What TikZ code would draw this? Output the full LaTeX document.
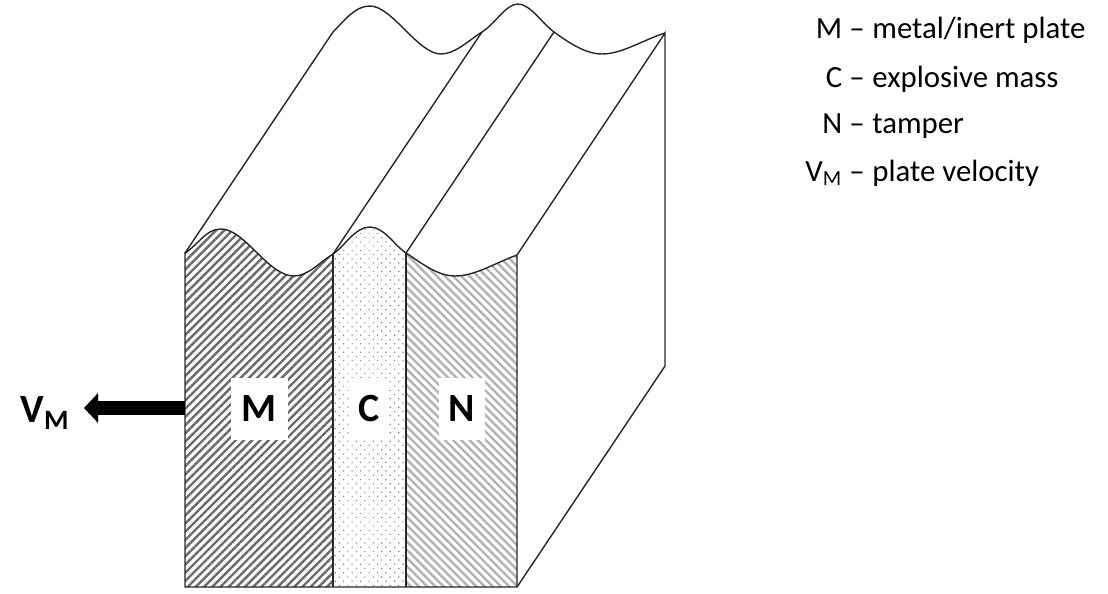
\documentclass[tikz,border=0pt]{standalone}
\usepackage{fontspec}
\setmainfont{Carlito}
\usetikzlibrary{arrows.meta, patterns.meta, positioning}

\begin{document}
\begin{tikzpicture}[
    x=0.5pt, y=-0.5pt,
    edge/.style={draw=black!85, line width=0.7pt},
    platefill/.style={pattern={Lines[angle=45, distance=2.9pt, line width=1.2pt]}, pattern color=black!58},
    massfill/.style={pattern={Dots[angle=45, distance=3pt, radius=0.42pt]}, pattern color=black!50},
    tamperfill/.style={pattern={Lines[angle=-45, distance=2.9pt, line width=1.2pt]}, pattern color=black!30},
    tag/.style={fill=white, font=\fontsize{20}{24}\selectfont\bfseries, inner sep=0pt, minimum height=31pt},
    key/.style={anchor=base west, font=\fontsize{15.4}{18}\selectfont, inner sep=0pt},
    symb/.style={anchor=base east, font=\fontsize{15.4}{18}\selectfont, inner sep=0pt},
    arrow/.style={-{Triangle[length=7pt, width=14.5pt]}, line width=7.2pt},
]
    \useasboundingbox (0,0) rectangle (1108,594);

    % front face
    \path[platefill] (185,253) .. controls (200,243) and (206,229) .. (221,229)
        .. controls (245,229) and (268,276) .. (294,276)
        .. controls (308,276) and (320,262) .. (333,254) -- (333,587) -- (185,587) -- cycle;
    \path[massfill] (333,254) .. controls (345,246) and (355,227) .. (370,227)
        .. controls (384,227) and (394,245) .. (406,253) -- (406,587) -- (333,587) -- cycle;
    \path[tamperfill] (406,253) .. controls (420,262) and (437,276) .. (455,276)
        .. controls (475,276) and (495,263) .. (517,255) -- (517,587) -- (406,587) -- cycle;

    \draw[edge] (185,587) -- (185,253) .. controls (200,243) and (206,229) .. (221,229)
        .. controls (245,229) and (268,276) .. (294,276)
        .. controls (308,276) and (320,262) .. (333,254)
        .. controls (345,246) and (355,227) .. (370,227)
        .. controls (384,227) and (394,245) .. (406,253)
        .. controls (420,262) and (437,276) .. (455,276)
        .. controls (475,276) and (495,263) .. (517,255) -- (517,587) -- cycle;
    \draw[edge] (333,254) -- (333,587);
    \draw[edge] (406,253) -- (406,587);

    % back ridge
    \draw[edge] (185,253) -- (333,32) .. controls (345,20) and (355,6) .. (370,6)
        .. controls (392,6) and (418,54) .. (441,54)
        .. controls (455,54) and (468,41) .. (482,32);
    \draw[edge] (482,32) .. controls (495,24) and (506,4) .. (518,4)
        .. controls (530,4) and (542,23) .. (554,32)
        .. controls (568,42) and (585,54) .. (602,54)
        .. controls (622,54) and (643,40) .. (665,33);
    \draw[edge] (333,254) -- (482,32);
    \draw[edge] (406,253) -- (554,32);
    \draw[edge] (517,255) -- (665,33) -- (665,366) -- (517,587);

    % labels on the face
    \node[tag, minimum width=28.5pt] (M) at (259,409) {M};
    \node[tag, minimum width=18pt] (C) at (369,409) {C};
    \node[tag, minimum width=23pt] (N) at (462,409) {N};

    % velocity arrow
    \coordinate (vstart) at (185,408);
    \node[font=\fontsize{20}{24}\selectfont\bfseries, inner sep=0pt, anchor=east] (vm) at (70,413) {V\textsubscript{M}};
    \coordinate (vtip) at (84,408);
    \draw[arrow] (vstart) -- (vtip);

    % legend
    \node[key] (k1) at (872,39) {metal/inert plate};
    \node[key] (k2) at (872,87) {explosive mass};
    \node[key] (k3) at (872,133) {tamper};
    \node[key] (k4) at (872,181) {plate velocity};
    \node[symb] (s1) at (865,39) {M –};
    \node[symb] (s2) at (865,87) {C –};
    \node[symb] (s3) at (865,133) {N –};
    \node[symb] (s4) at (865,181) {V\textsubscript{M} –};
\end{tikzpicture}
\end{document}
